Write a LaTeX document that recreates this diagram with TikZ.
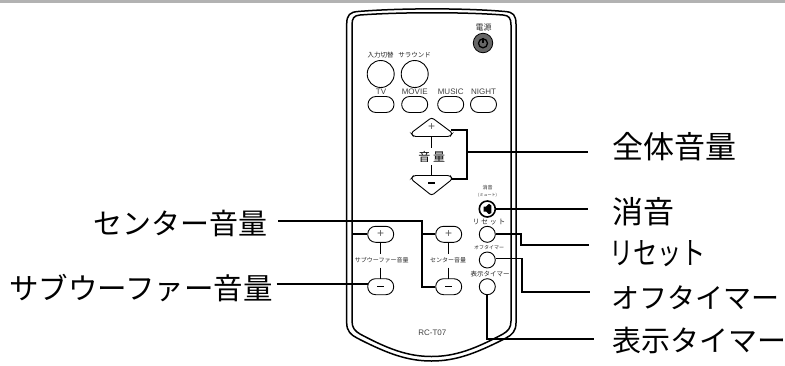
\documentclass[tikz,border=0pt]{standalone}
\usepackage{fontspec}
\usepackage{tikz}
\setmainfont{Noto Sans CJK JP}
\setsansfont{Liberation Sans}
\tikzset{
  shell/.style      = {draw=black, line width=1.5pt, fill=none},
  roundbtn/.style   = {draw=black, circle, fill=white, minimum size=16pt, inner sep=0pt, line width=0.9pt},
  bigbtn/.style     = {draw=black, circle, fill=white, minimum size=27pt, inner sep=0pt, line width=0.9pt},
  pill/.style       = {draw=black, fill=white, rounded corners=7.9pt, minimum width=26pt, minimum height=16pt, inner sep=0pt, line width=0.9pt},
  volkey/.style     = {draw=black, fill=white, rounded corners=2.5pt, line width=0.9pt},
  keymark/.style    = {font=\fontsize{12}{12}\selectfont\sffamily, inner sep=0pt, text=black!65},
  minusmark/.style  = {draw=black, line width=1.6pt},
  tiny/.style       = {font=\fontsize{6.5}{7}\selectfont, inner sep=0pt, text=black!85},
  micro/.style      = {font=\fontsize{5}{6}\selectfont, inner sep=0pt, text=black!85},
  latin/.style      = {font=\fontsize{8}{9}\selectfont\sffamily, inner sep=0pt, text=black!75},
  callout/.style    = {font=\fontsize{29.5}{31}\selectfont, anchor=west, inner sep=0pt},
  leadthick/.style  = {draw=black, line width=2pt},
  leadthin/.style   = {draw=black, line width=1.7pt},
  stem/.style       = {draw=black, line width=1pt},
}
\begin{document}
\begin{tikzpicture}[x=1pt,y=-1pt]
  \useasboundingbox (0,0) rectangle (785,365);
  \fill[black!30] (0,0) rectangle (785,3.3);

  % ----- remote body -----
  \draw[shell] (346.7,200) -- (346.7,24) .. controls (346.7,15) and (350,12) .. (358,11.5)
    .. controls (400,8) and (465,8) .. (505,11.5) .. controls (513,12) and (516,15) .. (516,24)
    -- (516,323) .. controls (516,331) and (512,335) .. (506,338)
    .. controls (475,354) and (455,361) .. (431.5,361) .. controls (408,361) and (388,354) .. (357,338)
    .. controls (351,335) and (346.7,331) .. (346.7,323) -- cycle;
  \draw[shell] (352,200) -- (352,25) .. controls (352,18) and (354,15.5) .. (360,15)
    .. controls (400,12) and (465,12) .. (503,15) .. controls (509,15.5) and (511,18) .. (511,25)
    -- (511,321) .. controls (511,328) and (508,331) .. (503,334)
    .. controls (475,349) and (455,356.5) .. (431.5,356.5) .. controls (408,356.5) and (388,349) .. (360,334)
    .. controls (355,331) and (352,328) .. (352,321) -- cycle;

  % ----- top keys -----
  \node[tiny, font=\fontsize{8}{8}\selectfont] (lblpower) at (483.5,27) {電源};
  \node[circle, draw=black, fill=black!60, minimum size=19.5pt, inner sep=0pt, line width=0.8pt] (power) at (483,43) {};
  \draw[black, line width=1.3pt] (483,43.3) circle[radius=4.5];
  \draw[black!60, line width=2.6pt] (483,37.5) -- (483,40.5);
  \draw[black, line width=1.2pt] (483,37.6) -- (483,42.5);

  \node[tiny] (lblinput) at (380.7,55.3) {入力切替};
  \node[tiny] (lblsurround) at (414.7,55.3) {サラウンド};
  \node[bigbtn] (input) at (380.7,74) {};
  \node[bigbtn] (surround) at (414.7,74) {};
  \foreach \n/\t/\x in {tv/TV/381, movie/MOVIE/414.7, music/MUSIC/450.7, night/NIGHT/483.5} {
    \node[latin] (lbl\n) at (\x,91.7) {\t};
    \node[pill] (\n) at (\x,104.5) {};
  }

  % ----- master volume -----
  \draw[stem] (431.7,136) -- (431.7,148) (431.7,165) -- (431.7,176);
  \draw[volkey] (431.7,117.5) -- (452.5,133) -- (450,136.5) -- (413.5,136.5) -- (411,133) -- cycle;
  \draw[volkey] (431.7,195.5) -- (452.5,179) -- (450,175.5) -- (413.5,175.5) -- (411,179) -- cycle;
  \node[keymark] (volplus) at (431.7,127.5) {+};
  \draw[minusmark] (428.2,183) -- (435.2,183);
  \node[font=\fontsize{12}{12}\selectfont, inner sep=0pt] (lblvol) at (431.7,157) {音 量};

  % ----- right column keys -----
  \node[micro] (lblmute) at (487.5,188) {消音};
  \node[font=\fontsize{4}{5}\selectfont, inner sep=0pt, text=black!85] (lblmute2) at (487.5,195.3) {(ミュート)};
  \node[roundbtn, line width=1.6pt] (mute) at (487.3,209) {};
  \fill[black] (483.5,206.5) -- (486,206.5) -- (489,203.8) -- (491.3,205.5) -- (491.3,213) -- (489,214.2) -- (486,211.5) -- (483.5,211.5) -- cycle;
  \node[tiny, font=\fontsize{7}{7}\selectfont] (lblreset) at (489,221.7) {リ セ ッ ト};
  \node[roundbtn] (reset) at (487.3,234.3) {};
  \node[micro] (lbloff) at (489,247.7) {オフタイマー};
  \node[roundbtn] (offtimer) at (487.3,260) {};
  \node[tiny] (lbldisp) at (490,274.3) {表示タイマー};
  \node[roundbtn] (disp) at (487.3,286.7) {};

  % ----- sub and center volume -----
  \foreach \n/\x in {sub/380.7, center/448.7} {
    \node[pill] (\n plus) at (\x,234.3) {};
    \node[pill] (\n minus) at (\x,286.7) {};
    \node[keymark] at (\x,233.8) {+};
    \draw[minusmark] (\x-3.5,286.3) -- (\x+3.5,286.3);
    \draw[stem] (\x,242.3) -- (\x,254) (\x,267.7) -- (\x,278.7);
  }
  \node[micro, font=\fontsize{6}{6}\selectfont] (lblsub) at (381.7,260) {サブウーファー音量};
  \node[micro, font=\fontsize{6}{6}\selectfont] (lblcenter) at (448,260) {センター音量};
  \node[latin] (model) at (432.3,332.7) {RC-T07};

  % ----- callouts -----
  \node[callout, font=\fontsize{31}{32}\selectfont] (callall) at (612,147) {全体音量};
  \node[callout, font=\fontsize{31}{32}\selectfont] (callmute) at (612,211.5) {消音};
  \node[callout] (callreset) at (609,253.5) {\scalebox{.82}[1.05]{リセット}};
  \node[callout, font=\fontsize{28}{29}\selectfont] (calloff) at (611,298) {オフタイマー};
  \node[callout, font=\fontsize{29}{30}\selectfont] (calldisp) at (612,340) {表示タイマー};
  \node[callout, anchor=east, font=\fontsize{29}{30}\selectfont] (callcenter) at (268,223) {センター音量};
  \node[callout, anchor=east] (callsub) at (273,288) {サブウーファー音量};

  % ----- connectors -----
  \coordinate (endall) at (588,152.3);
  \coordinate (volup) at (451,130);
  \coordinate (voldown) at (451,178.7);
  \coordinate (endmute) at (588,209);
  \coordinate (endreset) at (589,245);
  \coordinate (endoff) at (590,291.7);
  \coordinate (enddisp) at (594,339.3);
  \coordinate (endcenter) at (278,220.7);
  \coordinate (endsub) at (276.7,284);

  \draw[leadthick] (volup) -| (466.7,178.7) -- (voldown);
  \draw[leadthick] (466.7,152.3) -- (endall);
  \draw[leadthick] (mute.east) -- (endmute);
  \draw[leadthin] (reset.east) -- ++(25.5,0) |- (endreset);
  \draw[leadthin] (offtimer.east) ++(0,-1.5) -- ++(26,0) |- (endoff);
  \draw[leadthin] (disp.south) -- (487.3,339.3) -- (enddisp);
  \draw[leadthin] (endcenter) -- (421.7,220.7) |- (centerminus.west);
  \draw[leadthin] (421.7,234.3) -- (centerplus.west);
  \draw[leadthick] (endsub) -- (367.7,284);
  \draw[leadthin] (subplus.west) -| (352.5,284);
\end{tikzpicture}
\end{document}
